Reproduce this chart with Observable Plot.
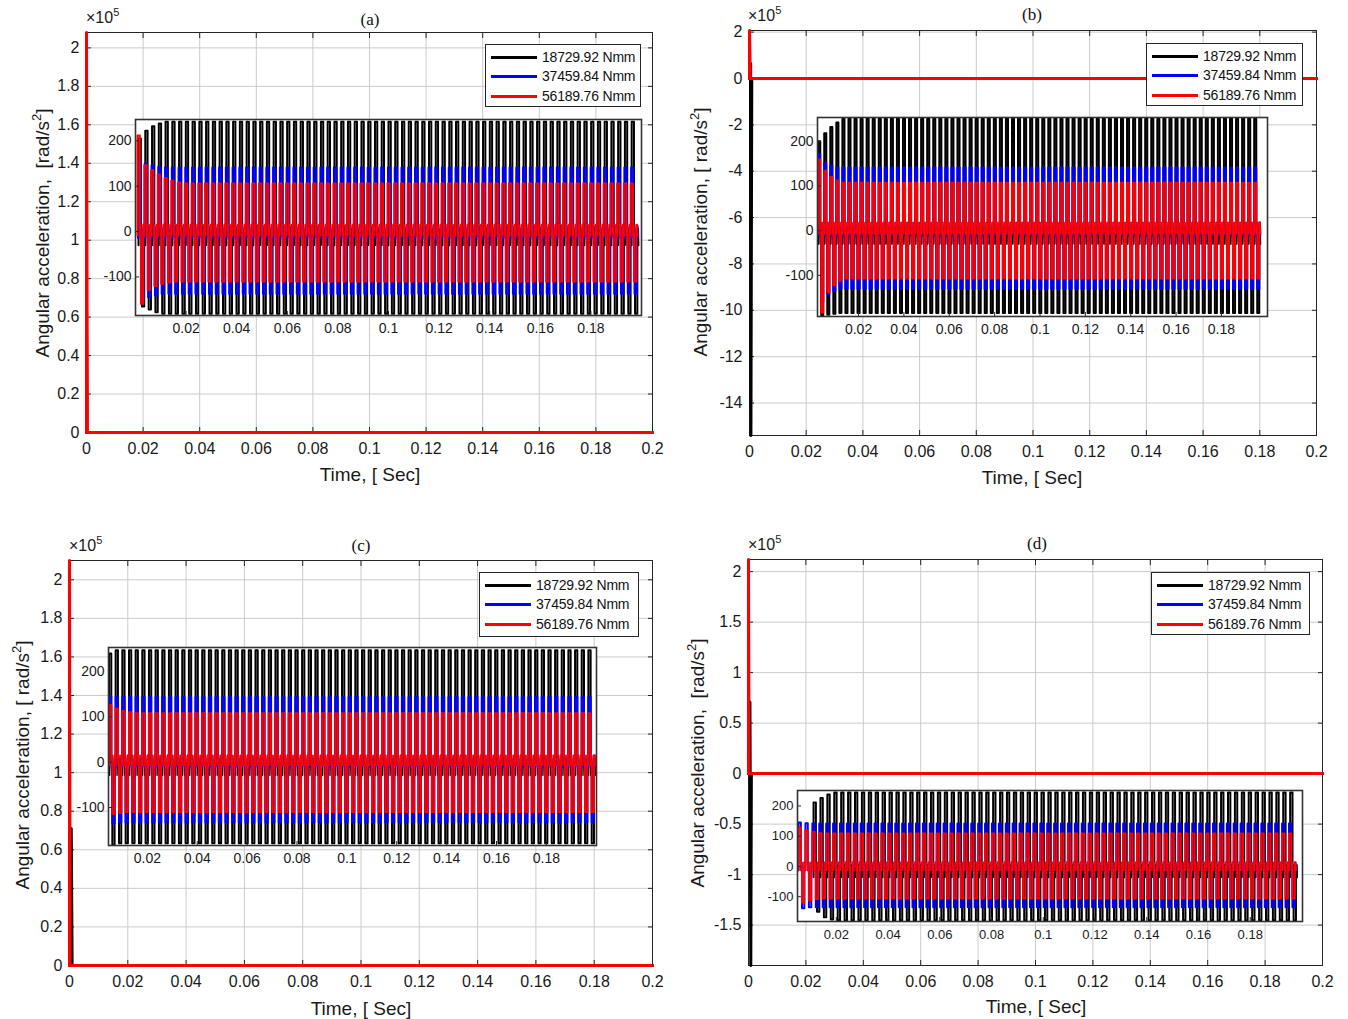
<!DOCTYPE html>
<html><head><meta charset="utf-8">
<script src="https://cdn.jsdelivr.net/npm/d3@7"></script>
<script src="https://cdn.jsdelivr.net/npm/@observablehq/plot@0.6"></script>
<style>
body{margin:0;background:#fff;}
#root{position:relative;width:1348px;height:1019px;overflow:hidden;font-family:"Liberation Sans",Arial,sans-serif;color:#1a1a1a;}
#root svg{position:absolute;}
.lbl{position:absolute;white-space:pre;line-height:1;}
.legend{position:absolute;background:#fff;border:1px solid #262626;box-sizing:border-box;}
.legline{position:absolute;left:5px;width:46px;height:3px;}
.legtext{position:absolute;left:56px;font-size:14px;letter-spacing:-0.2px;white-space:pre;line-height:1;color:#111;}
</style></head><body><div id="root"></div>
<script>
// ---------- data ----------
const seriesLabels = ["18729.92 Nmm", "37459.84 Nmm", "56189.76 Nmm"];
const seriesColors = ["#000000", "#0000ff", "#ff0000"];

const timeTicks = [0, 0.02, 0.04, 0.06, 0.08, 0.1, 0.12, 0.14, 0.16, 0.18, 0.2];
const insetTimeTicks = [0.02, 0.04, 0.06, 0.08, 0.1, 0.12, 0.14, 0.16, 0.18];
const insetValueTicks = [-100, 0, 100, 200];
const valueTicksA = [0, 0.2, 0.4, 0.6, 0.8, 1, 1.2, 1.4, 1.6, 1.8, 2];
const valueTicksB = [-14, -12, -10, -8, -6, -4, -2, 0, 2];
const valueTicksC = [0, 0.2, 0.4, 0.6, 0.8, 1, 1.2, 1.4, 1.6, 1.8, 2];
const valueTicksD = [-1.5, -1, -0.5, 0, 0.5, 1, 1.5, 2];

// main traces, values in x10^5 rad/s^2, per series [black, blue, red]
const mainTimeA = [[0, 0, 0.0002, 0.2], [0, 0.2], [0, 0, 0.0003, 0.2]];
const mainValueA = [[0, 0.7, 0, 0], [0, 0], [0, 2.08, 0, 0]];
const mainTimeB = [[0, 0.0004, 0.0005, 0.0008, 0.2], [0, 0.2], [0, 0, 0.0003, 0.2]];
const mainValueB = [[0, 0.65, -15.4, 0, 0], [0, 0], [0, 2.07, 0, 0]];
const mainTimeC = [[0, 0.0006, 0.0009, 0.2], [0, 0.2], [0, 0, 0.0002, 0.2]];
const mainValueC = [[0, 0.71, 0, 0], [0, 0], [0, 2.1, 0, 0]];
const mainTimeD = [[0, 0.0005, 0.0008, 0.001, 0.2], [0, 0.2], [0, 0, 0.0002, 0.2]];
const mainValueD = [[0, 0.71, -1.9, 0, 0], [0, 0], [0, 2.12, 0, 0]];

// inset (zoomed) oscillation, rad/s^2, per series [black, blue, red]
const cyclePeriod = 0.00267;           // about 75 cycles over 0.2 s
const pulseDuty = [0.34, 0.34, 0.34];
const insetEnd = 0.1996;

const insetStartA = [0.0012, 0.001, 0.0008];
const insetHiA = [242, 141, 106];
const insetLoA = [-181, -137, -110];
const insetZaA = [6, 12, 15];
const insetZbA = [-30, -14, -9];
const insetRiseHiA = [[205, 222, 232, 238], [157, 150, 146, 143], [212, 146, 135, 126, 118, 112, 108]];
const insetRiseLoA = [[-165, -172, -178], [-150, -145, -141], [-159, -128, -120, -115, -112]];

const insetStartB = [0.0022, 0.0022, 0.0022];
const insetHiB = [250, 141, 107];
const insetLoB = [-184, -130, -107];
const insetZaB = [8, 18, 18];
const insetZbB = [-30, -10, -7];
const insetRiseHiB = [[200, 218, 232, 242], [172, 152, 145], [159, 134, 120, 112]];
const insetRiseLoB = [[-190, -188, -186], [-160, -142, -135], [-183, -138, -122, -112]];

const insetStartC = [0.0046, 0.0046, 0.0046];
const insetHiC = [247, 144, 108];
const insetLoC = [-179, -133, -110];
const insetZaC = [8, 14, 15];
const insetZbC = [-29, -10, -7];
const insetRiseHiC = [[240], [146], [126, 118, 113, 110]];
const insetRiseLoC = [[-184], [-136], [-114, -112]];

const insetStartD = [0.0112, 0.0054, 0.0054];
const insetHiD = [244, 142, 109];
const insetLoD = [-178, -135, -106];
const insetZaD = [5, 13, 13];
const insetZbD = [-36, -13, -13];
const insetRiseHiD = [[211, 226, 238], [145, 143], [129, 120, 114, 110]];
const insetRiseLoD = [[-150, -168, -175], [-138], [-120, -112, -108]];

// ---------- layout ----------
const panels = [
  {frame:{l:86,t:32,r:652,b:432}, yDomain:[0,2.08], yTicks:valueTicksA, mainT:mainTimeA, mainV:mainValueA,
   inset:{l:135,t:119,r:641,b:315,x:[0,0.2],y:[-185,247], start:insetStartA, hi:insetHiA, lo:insetLoA, za:insetZaA, zb:insetZbA, rh:insetRiseHiA, rl:insetRiseLoA, fs:14},
   title:"(a)", titleXY:[370,19], x10:[86,10], xlab:[370,474], ylab:[42,233], ytext:"Angular acceleration,  [rad/s#]",
   legend:{l:485,t:44,w:156,h:63}},
  {frame:{l:749,t:30,r:1316,b:435}, yDomain:[-15.4,2.07], yTicks:valueTicksB, mainT:mainTimeB, mainV:mainValueB,
   inset:{l:817,t:117,r:1267,b:316,x:[0.0019,0.2003],y:[-192,253], start:insetStartB, hi:insetHiB, lo:insetLoB, za:insetZaB, zb:insetZbB, rh:insetRiseHiB, rl:insetRiseLoB, fs:14},
   title:"(b)", titleXY:[1032,14], x10:[748,8], xlab:[1032,477], ylab:[700,232], ytext:"Angular acceleration, [ rad/s#]",
   legend:{l:1146,t:43,w:157,h:63}},
  {frame:{l:69,t:560,r:652,b:965}, yDomain:[0,2.1], yTicks:valueTicksC, mainT:mainTimeC, mainV:mainValueC,
   inset:{l:108,t:647,r:596,b:845,x:[0.0044,0.2001],y:[-184,253], start:insetStartC, hi:insetHiC, lo:insetLoC, za:insetZaC, zb:insetZbC, rh:insetRiseHiC, rl:insetRiseLoC, fs:14},
   title:"(c)", titleXY:[361,545], x10:[69,538], xlab:[361,1008], ylab:[22,765], ytext:"Angular acceleration, [ rad/s#]",
   legend:{l:479,t:572,w:160,h:65}},
  {frame:{l:748,t:559,r:1322,b:965}, yDomain:[-1.9,2.12], yTicks:valueTicksD, mainT:mainTimeD, mainV:mainValueD,
   inset:{l:797,t:790,r:1302,b:921,x:[0.005,0.2002],y:[-182,251], start:insetStartD, hi:insetHiD, lo:insetLoD, za:insetZaD, zb:insetZbD, rh:insetRiseHiD, rl:insetRiseLoD, fs:13},
   title:"(d)", titleXY:[1037,543], x10:[748,537], xlab:[1036,1006], ylab:[697,763], ytext:"Angular acceleration,  [rad/s#]",
   legend:{l:1151,t:572,w:159,h:63}}
];

const root = document.getElementById("root");
const fmt = d => String(d);
const FONT = "Liberation Sans, Arial, sans-serif";

// each cycle: high pulse, dense ripple around zero, low pulse, dense ripple around zero
function pulseTrain(start, end, period, duty, hi, lo, zA, zB, riseHi, riseLo) {
  const pts = [{t: start, v: zB}];
  const q = (0.5 - duty) * period / 3;
  let k = 0;
  for (let t = start; t + period <= end + 1e-12; t += period, k++) {
    const h = k < riseHi.length ? riseHi[k] : hi;
    const l = k < riseLo.length ? riseLo[k] : lo;
    const a = t + duty * period, b = t + 0.5 * period, c = b + duty * period;
    pts.push({t, v: h}, {t: a, v: h}, {t: a, v: zA}, {t: a + q, v: zB}, {t: a + 2 * q, v: zA}, {t: b, v: zB},
      {t: b, v: l}, {t: c, v: l}, {t: c, v: zA}, {t: c + q, v: zB}, {t: c + 2 * q, v: zA}, {t: t + period, v: zB});
  }
  return pts;
}

function place(el, left, top) { el.style.left = left + "px"; el.style.top = top + "px"; root.appendChild(el); }

function mainPlot(p) {
  const f = p.frame, mL = 60, mR = 24, mT = 10, mB = 30;
  const lines = [0, 1, 2].map(i => Plot.line(p.mainT[i].map((t, j) => ({t, v: p.mainV[i][j]})),
    {x: "t", y: "v", stroke: seriesColors[i], strokeWidth: 3}));
  const svg = Plot.plot({
    width: f.r - f.l + mL + mR, height: f.b - f.t + mT + mB,
    marginLeft: mL, marginRight: mR, marginTop: mT, marginBottom: mB,
    style: {background: "transparent", fontFamily: FONT, fontSize: "16px", color: "#1a1a1a", maxWidth: "none"},
    x: {domain: [0, 0.2], label: null},
    y: {domain: p.yDomain, label: null},
    marks: [
      Plot.gridX({ticks: timeTicks, stroke: "#cbcbcb", strokeOpacity: 1}),
      Plot.gridY({ticks: p.yTicks, stroke: "#cbcbcb", strokeOpacity: 1}),
      Plot.axisX({ticks: timeTicks, tickSize: 0, tickPadding: 10, tickFormat: fmt, label: null}),
      Plot.axisY({ticks: p.yTicks, tickSize: 0, tickPadding: 7, tickFormat: fmt, label: null}),
      Plot.axisX({anchor: "bottom", ticks: timeTicks, tickSize: -5, tickFormat: () => "", label: null, stroke: "#262626"}),
      Plot.axisX({anchor: "top", ticks: timeTicks, tickSize: -5, tickFormat: () => "", label: null, stroke: "#262626"}),
      Plot.axisY({anchor: "left", ticks: p.yTicks, tickSize: -5, tickFormat: () => "", label: null, stroke: "#262626"}),
      Plot.axisY({anchor: "right", ticks: p.yTicks, tickSize: -5, tickFormat: () => "", label: null, stroke: "#262626"}),
      Plot.frame({stroke: "#262626", strokeWidth: 1}),
      ...lines
    ]
  });
  place(svg, f.l - mL, f.t - mT);
}

function insetPlot(p) {
  const n = p.inset, mL = 40, mR = 4, mT = 4, mB = 26;
  const lines = [0, 1, 2].map(i => Plot.line(
    pulseTrain(n.start[i], insetEnd, cyclePeriod, pulseDuty[i], n.hi[i], n.lo[i], n.za[i], n.zb[i], n.rh[i], n.rl[i]),
    {x: "t", y: "v", stroke: seriesColors[i], strokeWidth: 2, clip: true}));
  const svg = Plot.plot({
    width: n.r - n.l + mL + mR, height: n.b - n.t + mT + mB,
    marginLeft: mL, marginRight: mR, marginTop: mT, marginBottom: mB,
    style: {background: "transparent", fontFamily: FONT, fontSize: n.fs + "px", color: "#1a1a1a", maxWidth: "none"},
    x: {domain: n.x, label: null},
    y: {domain: n.y, label: null},
    marks: [
      Plot.frame({fill: "#fff", stroke: "none"}),
      ...lines,
      Plot.axisX({ticks: insetTimeTicks, tickSize: 0, tickPadding: 8, tickFormat: fmt, label: null}),
      Plot.axisY({ticks: insetValueTicks, tickSize: 0, tickPadding: 4, tickFormat: fmt, label: null}),
      Plot.axisX({anchor: "bottom", ticks: insetTimeTicks, tickSize: -4, tickFormat: () => "", label: null, stroke: "#262626"}),
      Plot.axisY({anchor: "left", ticks: insetValueTicks, tickSize: -4, tickFormat: () => "", label: null, stroke: "#262626"}),
      Plot.frame({stroke: "#333", strokeWidth: 1.6})
    ]
  });
  place(svg, n.l - mL, n.t - mT);
}

function centered(html, cx, cy, style, rotate) {
  const d = document.createElement("div");
  d.className = "lbl";
  d.innerHTML = html;
  Object.assign(d.style, style);
  d.style.transform = "translate(-50%,-50%)" + (rotate ? " rotate(-90deg)" : "");
  place(d, cx, cy);
}

function legend(p) {
  const g = p.legend;
  const box = document.createElement("div");
  box.className = "legend";
  box.style.width = g.w + "px"; box.style.height = g.h + "px";
  const rowsY = [12.5, 31.5, 51];
  seriesLabels.forEach((lab, i) => {
    const ln = document.createElement("div");
    ln.className = "legline"; ln.style.background = seriesColors[i];
    ln.style.top = (rowsY[i] - 1.5) + "px";
    const tx = document.createElement("div");
    tx.className = "legtext"; tx.textContent = lab;
    tx.style.top = (rowsY[i] - 7.5) + "px";
    box.appendChild(ln); box.appendChild(tx);
  });
  place(box, g.l, g.t);
}

panels.forEach(p => mainPlot(p));
panels.forEach(p => insetPlot(p));
panels.forEach(p => {
  legend(p);
  centered(p.title, p.titleXY[0], p.titleXY[1], {fontFamily: "Liberation Serif, Times New Roman, serif", fontSize: "17px", color: "#111"});
  centered("Time, [ Sec]", p.xlab[0], p.xlab[1], {fontSize: "19px"});
  centered(p.ytext.replace("#", "<sup style='font-size:13px;vertical-align:8px;line-height:0'>2</sup>"),
    p.ylab[0], p.ylab[1], {fontSize: "19px"}, true);
  const x10 = document.createElement("div");
  x10.className = "lbl";
  x10.innerHTML = "\u00d710<sup style='font-size:11px;vertical-align:7px;line-height:0'>5</sup>";
  x10.style.fontSize = "16px";
  place(x10, p.x10[0], p.x10[1]);
});
</script></body></html>
